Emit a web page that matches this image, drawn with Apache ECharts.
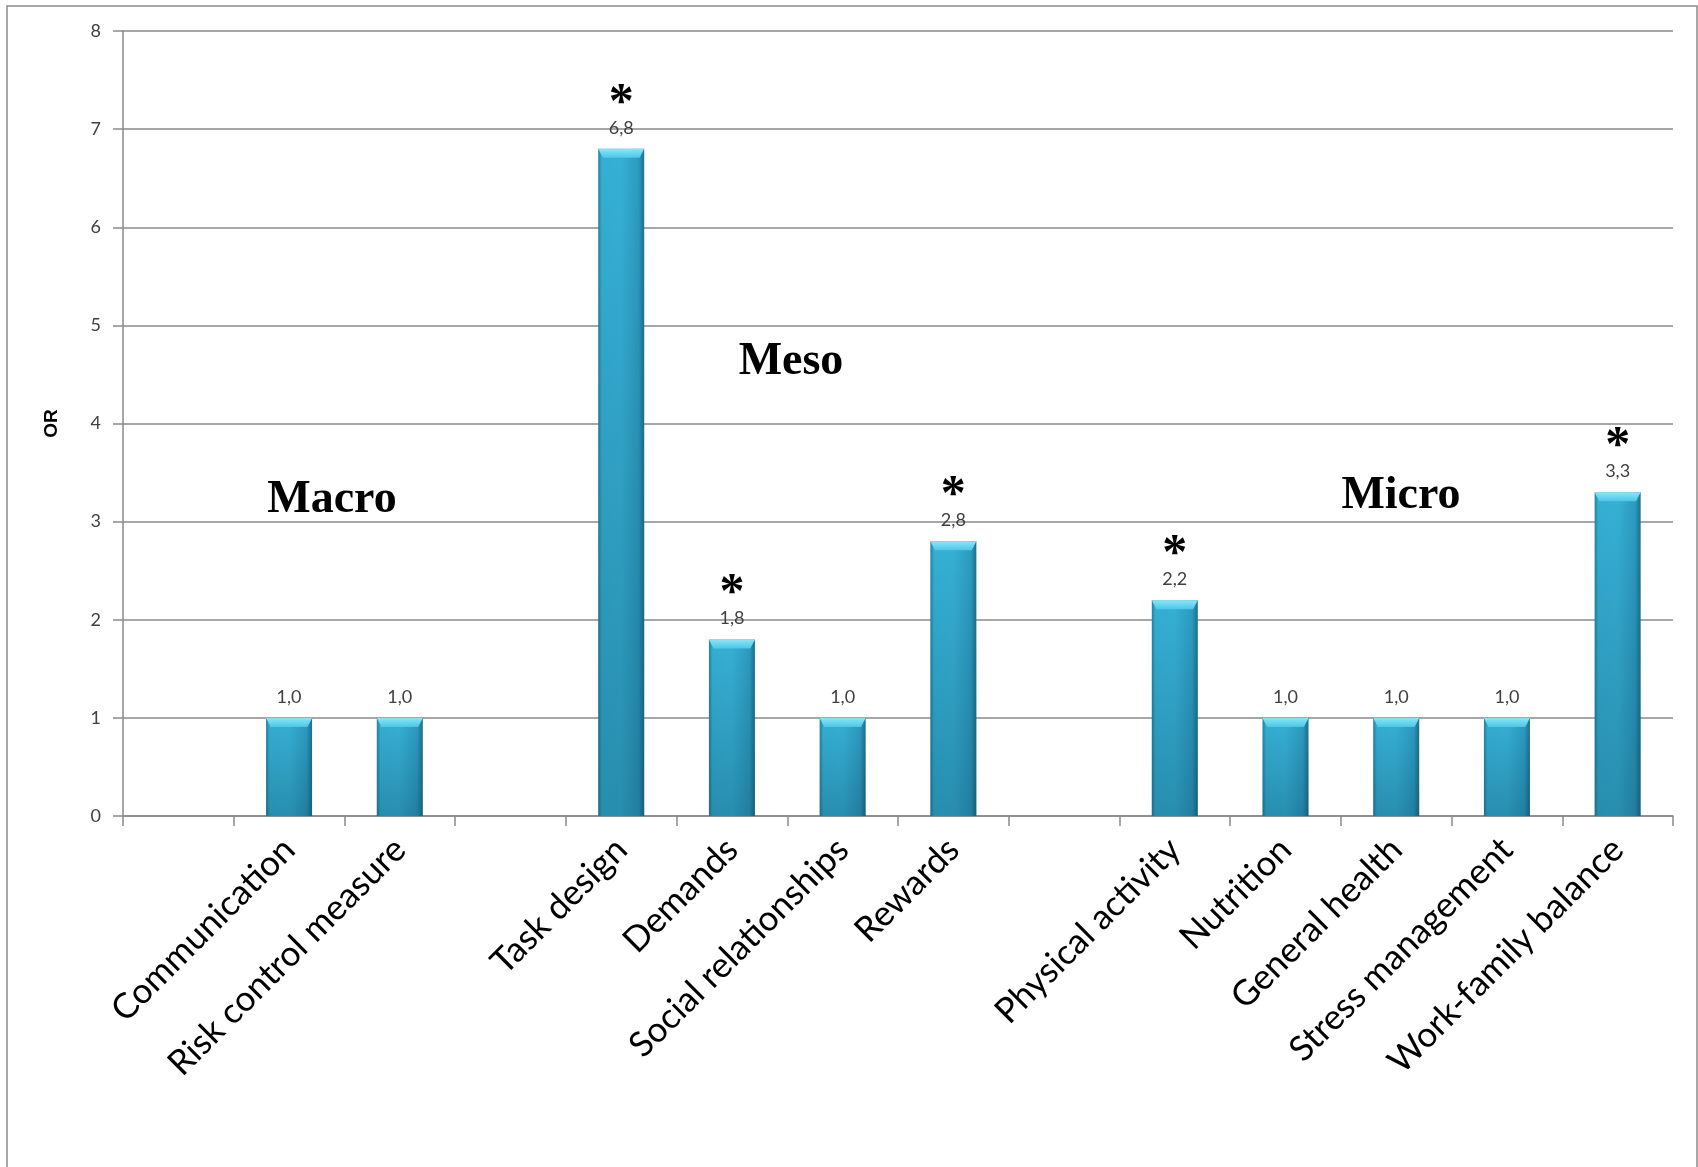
<!DOCTYPE html>
<html>
<head>
<meta charset="utf-8">
<script src="https://cdn.jsdelivr.net/npm/echarts@6/dist/echarts.min.js"></script>
<style>
  html, body { margin: 0; padding: 0; background: #fff; }
  #chart { width: 1698px; height: 1167px; }
</style>
</head>
<body>
<div id="chart"></div>
<script>
var categories = ['', 'Communication', 'Risk control measure', '', 'Task design', 'Demands',
    'Social relationships', 'Rewards', '', 'Physical activity', 'Nutrition',
    'General health', 'Stress management', 'Work-family balance'];
var orValues = [null, 1.0, 1.0, null, 6.8, 1.8, 1.0, 2.8, null, 2.2, 1.0, 1.0, 1.0, 3.3];
var significant = [false, false, false, false, true, true, false, true, false, true, false, false, false, true];
var groupNames = ['Macro', 'Meso', 'Micro'];
var yTicks = { min: 0, max: 8, interval: 1 };

var chartDom = document.getElementById('chart');
var myChart = echarts.init(chartDom);

var barFill = new echarts.graphic.LinearGradient(0, 0, 1, 0, [
    { offset: 0, color: '#23829f' },
    { offset: 0.08, color: '#34afd4' },
    { offset: 0.5, color: '#36b0d5' },
    { offset: 0.88, color: '#2c9bc0' },
    { offset: 1, color: '#1c708e' }
]);

function fmt(v) {
    return v.toFixed(1).replace('.', ',');
}

var option = {
    animation: false,
    backgroundColor: '#fff',
    grid: { left: 123, right: 25, top: 31, bottom: 351 },
    xAxis: {
        type: 'category',
        data: categories,
        axisLine: { lineStyle: { color: '#8a8a8a', width: 1.5 } },
        axisTick: { show: true, length: 10, lineStyle: { color: '#8a8a8a', width: 1.5 } },
        axisLabel: {
            interval: 0,
            rotate: 45,
            margin: 28,
            fontFamily: 'Lato',
            fontSize: 35,
            color: '#000'
        }
    },
    yAxis: {
        type: 'value',
        min: yTicks.min,
        max: yTicks.max,
        interval: yTicks.interval,
        name: 'OR',
        nameLocation: 'middle',
        nameGap: 62,
        nameTextStyle: { fontFamily: 'Liberation Sans', fontWeight: 'bold', fontSize: 19, color: '#000' },
        axisLine: { show: true, lineStyle: { color: '#8a8a8a', width: 1.5 } },
        axisTick: { show: true, length: 10, lineStyle: { color: '#8a8a8a', width: 1.5 } },
        axisLabel: { margin: 22, fontFamily: 'Lato', fontSize: 18, color: '#404040' },
        splitLine: { lineStyle: { color: '#8a8a8a', width: 1.5 } }
    },
    series: [
        {
            type: 'bar',
            data: orValues,
            barWidth: 46,
            itemStyle: { color: barFill },
            label: {
                show: true,
                position: 'top',
                distance: 12,
                formatter: function (p) {
                    var s = fmt(p.value);
                    return significant[p.dataIndex] ? '{s|*}\n{v|' + s + '}' : '{v|' + s + '}';
                },
                rich: {
                    s: { fontFamily: 'Liberation Serif', fontWeight: 'bold', fontSize: 50, lineHeight: 30, color: '#000' },
                    v: { fontFamily: 'Lato', fontSize: 18, lineHeight: 18, color: '#404040' }
                }
            },
            z: 2
        },
        {
            type: 'bar',
            data: orValues,
            barWidth: 46,
            barGap: '-100%',
            silent: true,
            itemStyle: {
                color: new echarts.graphic.LinearGradient(0, 0, 0, 1, [
                    { offset: 0, color: 'rgba(0,40,60,0)' },
                    { offset: 1, color: 'rgba(0,40,60,0.25)' }
                ])
            },
            z: 3
        },
        {
            type: 'pictorialBar',
            data: orValues,
            symbol: 'path://M0,0L10,0L9,1L1,1Z',
            symbolSize: [46, 9],
            symbolPosition: 'end',
            symbolKeepAspect: false,
            silent: true,
            itemStyle: {
                color: new echarts.graphic.LinearGradient(0, 0, 0, 1, [
                    { offset: 0, color: '#8ae6f8' },
                    { offset: 1, color: '#4cc7e8' }
                ])
            },
            z: 4
        }
    ],
    graphic: [
        {
            type: 'rect',
            shape: { x: 7, y: 6, width: 1690, height: 1200 },
            style: { fill: 'none', stroke: '#8a8a8a', lineWidth: 1.5 },
            silent: true
        },
        {
            type: 'text', x: 332, y: 500,
            style: { text: groupNames[0], font: 'bold 46px "Liberation Serif"', fill: '#000', align: 'center', verticalAlign: 'middle' }
        },
        {
            type: 'text', x: 791, y: 362,
            style: { text: groupNames[1], font: 'bold 46px "Liberation Serif"', fill: '#000', align: 'center', verticalAlign: 'middle' }
        },
        {
            type: 'text', x: 1401, y: 496,
            style: { text: groupNames[2], font: 'bold 46px "Liberation Serif"', fill: '#000', align: 'center', verticalAlign: 'middle' }
        }
    ]
};

option && myChart.setOption(option);
</script>
</body>
</html>
